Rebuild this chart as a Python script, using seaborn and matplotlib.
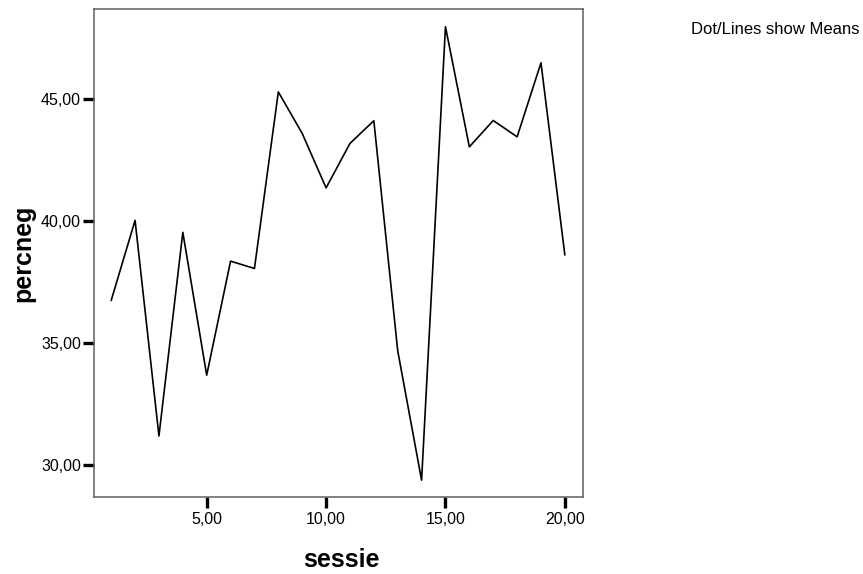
import matplotlib
matplotlib.use("Agg")
import matplotlib.pyplot as plt
from matplotlib.ticker import FuncFormatter
import pandas as pd
import seaborn as sns

# Session numbers and mean percentage of negative responses per session
sessie = [1, 2, 3, 4, 5, 6, 7, 8, 9, 10, 11, 12, 13, 14, 15, 16, 17, 18, 19, 20]
percneg = [36.75, 40.03, 31.20, 39.54, 33.69, 38.36, 38.06, 45.29, 43.59, 41.36,
           43.18, 44.11, 34.69, 29.39, 47.96, 43.04, 44.12, 43.45, 46.48, 38.61]

x_ticks = [5, 10, 15, 20]
y_ticks = [30, 35, 40, 45]

sns.set_style("white")
plt.rcParams["font.family"] = ["Liberation Sans", "DejaVu Sans"]

df = pd.DataFrame({"sessie": sessie, "percneg": percneg})

fig = plt.figure(figsize=(8.63, 5.74), dpi=100)
ax = fig.add_axes([0.10892, 0.13467, 0.56663, 0.84913])

sns.lineplot(data=df, x="sessie", y="percneg", color="black",
             linewidth=1.2, errorbar=None, ax=ax)

ax.set_xlim(0.28, 20.76)
ax.set_ylim(28.714, 48.673)
ax.set_xticks(x_ticks)
ax.set_yticks(y_ticks)

comma_fmt = FuncFormatter(lambda v, _: f"{v:.2f}".replace(".", ","))
ax.xaxis.set_major_formatter(comma_fmt)
ax.yaxis.set_major_formatter(comma_fmt)

ax.tick_params(axis="both", which="major", bottom=True, left=True,
               top=False, right=False, direction="out", length=7.8,
               width=2.4, color="black", labelsize=11.5, labelcolor="black")
ax.tick_params(axis="y", pad=1.5)
ax.tick_params(axis="x", pad=3.5)

for spine in ax.spines.values():
    spine.set_visible(True)
    spine.set_color("#5f5f5f")
    spine.set_linewidth(1.1)

ax.set_xlabel("sessie", fontsize=18, fontweight="bold", color="black")
ax.set_ylabel("percneg", fontsize=18, fontweight="bold", color="black")
ax.xaxis.set_label_coords(0.5065, -0.1449)
ax.xaxis.label.set_va("baseline")
ax.yaxis.set_label_coords(-0.1452, 0.5)
ax.yaxis.label.set_va("center")

fig.text(690.7 / 863, 1 - 34 / 574, "Dot/Lines show Means",
         fontsize=12, color="black", ha="left", va="baseline")

fig.savefig("out.png", dpi=100)
